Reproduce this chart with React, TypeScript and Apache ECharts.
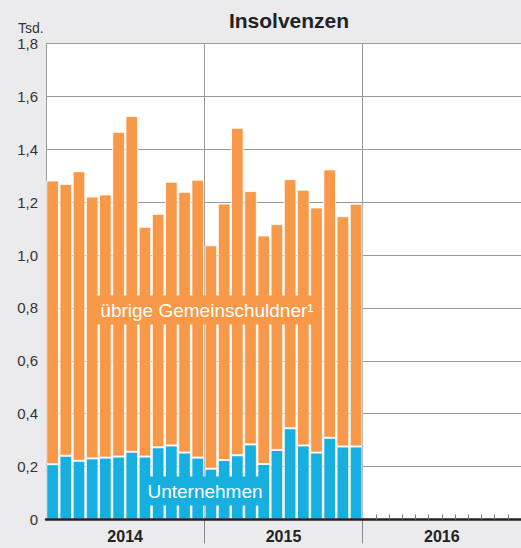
import React, { useEffect, useRef } from "react";
import * as echarts from "echarts";

const months: string[] = [
  "Jan 2014", "Feb 2014", "Mär 2014", "Apr 2014", "Mai 2014", "Jun 2014",
  "Jul 2014", "Aug 2014", "Sep 2014", "Okt 2014", "Nov 2014", "Dez 2014",
  "Jan 2015", "Feb 2015", "Mär 2015", "Apr 2015", "Mai 2015", "Jun 2015",
  "Jul 2015", "Aug 2015", "Sep 2015", "Okt 2015", "Nov 2015", "Dez 2015",
  "Jan 2016", "Feb 2016", "Mär 2016", "Apr 2016", "Mai 2016", "Jun 2016",
  "Jul 2016", "Aug 2016", "Sep 2016", "Okt 2016", "Nov 2016", "Dez 2016",
];
const years: string[] = ["2014", "2015", "2016"];

// Insolvenzen insgesamt (Tsd.)
const insgesamt: number[] = [
  1.282, 1.269, 1.317, 1.221, 1.229, 1.466, 1.526, 1.107, 1.156, 1.277, 1.239, 1.285,
  1.037, 1.195, 1.481, 1.242, 1.074, 1.117, 1.287, 1.247, 1.180, 1.324, 1.147, 1.194,
];
// davon Unternehmen (Tsd.)
const unternehmen: number[] = [
  0.209, 0.241, 0.222, 0.231, 0.234, 0.238, 0.256, 0.238, 0.273, 0.280, 0.253, 0.234,
  0.192, 0.225, 0.243, 0.284, 0.210, 0.263, 0.345, 0.280, 0.253, 0.309, 0.276, 0.276,
];

const yMin = 0;
const yMax = 1.8;
const yStep = 0.2;

const BLUE = "#17afe0";
const ORANGE = "#f79948";

export default function App() {
  const ref = useRef<HTMLDivElement>(null);

  useEffect(() => {
    document.body.style.margin = "0";
    if (!ref.current) return;
    const chart = echarts.init(ref.current, undefined, { renderer: "svg" });

    const uebrige = insgesamt.map((t, i) => Math.round((t - unternehmen[i]) * 1000) / 1000);

    chart.setOption({
      animation: false,
      backgroundColor: "#ebebed",
      textStyle: { fontFamily: "Liberation Sans, Arial, sans-serif" },
      title: {
        text: "Insolvenzen",
        left: 284,
        textAlign: "center",
        top: 5,
        textStyle: { fontSize: 21, fontWeight: "bold", color: "#222", fontFamily: "Liberation Sans, Arial, sans-serif" },
      },
      grid: {
        left: 46,
        top: 43.5,
        width: 476,
        height: 476,
        show: true,
        backgroundColor: "#ffffff",
        borderWidth: 0,
      },
      xAxis: [
        {
          type: "category",
          data: months,
          position: "bottom",
          z: 10,
          axisLine: { show: true, lineStyle: { color: "#222", width: 2.5 } },
          axisTick: {
            show: true,
            inside: true,
            length: 5,
            interval: (i: number) => i > 24,
            lineStyle: { color: "#777", width: 1 },
          },
          axisLabel: { show: false },
          splitLine: { show: false },
        },
        {
          type: "category",
          data: years,
          position: "bottom",
          axisLine: { show: false },
          axisTick: {
            show: true,
            length: 24,
            interval: (i: number) => i === 1 || i === 2,
            lineStyle: { color: "#888", width: 1 },
          },
          axisLabel: {
            show: true,
            interval: 0,
            fontSize: 16,
            fontWeight: "bold",
            color: "#222",
            margin: 9,
          },
          splitLine: {
            show: true,
            interval: (i: number) => i > 0,
            lineStyle: { color: "#999", width: 1 },
          },
        },
      ],
      yAxis: {
        type: "value",
        min: yMin,
        max: yMax,
        interval: yStep,
        axisLine: { show: true, lineStyle: { color: "#999", width: 1 } },
        axisTick: { show: false },
        axisLabel: {
          fontSize: 15,
          color: "#333",
          margin: 8,
          formatter: (v: number) => (v === 0 ? "0" : v.toFixed(1).replace(".", ",")),
        },
        splitLine: { show: true, lineStyle: { color: "#999", width: 1 } },
      },
      series: [
        {
          name: "Unternehmen",
          type: "bar",
          stack: "ins",
          xAxisIndex: 0,
          barCategoryGap: "4%",
          data: unternehmen,
          itemStyle: { color: BLUE, borderColor: "rgba(255,255,255,0.85)", borderWidth: 1 },
        },
        {
          name: "übrige Gemeinschuldner",
          type: "bar",
          stack: "ins",
          xAxisIndex: 0,
          barCategoryGap: "4%",
          data: uebrige,
          itemStyle: { color: ORANGE, borderColor: "rgba(255,255,255,0.85)", borderWidth: 1 },
        },
      ],
      graphic: [
        {
          type: "text",
          x: 18,
          y: 28,
          style: {
            text: "Tsd.",
            fill: "#333",
            fontSize: 14,
            fontFamily: "Liberation Sans, Arial, sans-serif",
            textVerticalAlign: "middle",
          },
        },
        {
          type: "text",
          x: 207,
          y: 310,
          z: 100,
          style: {
            text: "übrige Gemeinschuldner¹",
            fill: "#fff",
            fontSize: 19,
            fontFamily: "Liberation Sans, Arial, sans-serif",
            align: "center",
            verticalAlign: "middle",
            backgroundColor: ORANGE,
            padding: [5, 6, 5, 6],
          },
        },
        {
          type: "text",
          x: 205,
          y: 491,
          z: 100,
          style: {
            text: "Unternehmen",
            fill: "#fff",
            fontSize: 19,
            fontFamily: "Liberation Sans, Arial, sans-serif",
            align: "center",
            verticalAlign: "middle",
            backgroundColor: BLUE,
            padding: [5, 6, 5, 6],
          },
        },
      ],
    });

    return () => chart.dispose();
  }, []);

  return <div ref={ref} style={{ width: 521, height: 548 }} />;
}
